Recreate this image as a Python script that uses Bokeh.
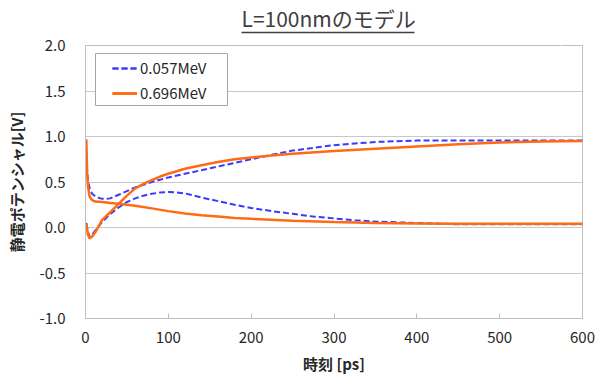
from bokeh.plotting import figure
from bokeh.models import (Range1d, Legend, LegendItem, FixedTicker, BoxAnnotation,
                          CustomJSTickFormatter, LinearAxis, Title)
from bokeh.embed import file_html
from bokeh.resources import INLINE

# ---- data ----
t_blue_a = [1, 2, 3, 5, 8, 12, 18, 25, 30, 40, 50, 60, 70, 80, 100, 120, 150, 180, 200, 225, 250, 275, 300, 350, 400, 450, 500, 600]
v_blue_a = [0.78, 0.62, 0.52, 0.43, 0.37, 0.34, 0.32, 0.315, 0.32, 0.36, 0.40, 0.44, 0.47, 0.50, 0.55, 0.59, 0.65, 0.71, 0.75, 0.80, 0.845, 0.875, 0.905, 0.94, 0.955, 0.955, 0.955, 0.955]

t_blue_b = [1, 3, 5, 8, 12, 20, 30, 40, 50, 60, 70, 80, 90, 100, 110, 120, 140, 160, 180, 200, 225, 250, 275, 300, 325, 350, 400, 450, 500, 600]
v_blue_b = [0.05, -0.05, -0.10, -0.08, -0.03, 0.06, 0.15, 0.22, 0.28, 0.32, 0.35, 0.37, 0.385, 0.39, 0.385, 0.375, 0.33, 0.29, 0.25, 0.215, 0.18, 0.15, 0.12, 0.10, 0.08, 0.065, 0.05, 0.035, 0.035, 0.035]

t_orange_r = [1, 3, 5, 8, 12, 20, 30, 40, 50, 60, 70, 80, 90, 100, 120, 140, 160, 180, 200, 225, 250, 300, 350, 400, 450, 500, 550, 600]
v_orange_r = [0.04, -0.08, -0.12, -0.10, -0.05, 0.08, 0.17, 0.26, 0.35, 0.43, 0.48, 0.52, 0.56, 0.59, 0.645, 0.685, 0.72, 0.75, 0.77, 0.79, 0.81, 0.84, 0.865, 0.89, 0.915, 0.935, 0.945, 0.95]

t_orange_f = [1, 2, 3, 5, 8, 12, 20, 30, 40, 50, 60, 80, 100, 120, 140, 160, 180, 200, 250, 300, 350, 400, 450, 500, 600]
v_orange_f = [0.97, 0.60, 0.45, 0.34, 0.30, 0.285, 0.28, 0.27, 0.26, 0.25, 0.24, 0.21, 0.18, 0.155, 0.135, 0.12, 0.105, 0.095, 0.075, 0.06, 0.05, 0.045, 0.04, 0.04, 0.04]

series_names = ["0.057MeV", "0.696MeV"]
x_ticks = [0, 100, 200, 300, 400, 500, 600]
y_ticks = [-1.0, -0.5, 0.0, 0.5, 1.0, 1.5, 2.0]
title_text = "L=100nmのモデル"
x_label = "時刻 [ps]"
y_label = "静電ポテンシャル[V]"

BLUE = "#3a3aff"
ORANGE = "#ff6a13"
JP = "Noto Sans CJK JP"
TXT = "#262626"

X0, X1 = 0, 600
FRAME_L, FRAME_R = 85, 582   # frame pixel edges

p = figure(width=608, height=377, output_backend="svg", toolbar_location=None,
           x_range=Range1d(X0, X1), y_range=Range1d(-1.0, 2.0),
           min_border_left=FRAME_L, min_border_right=608 - FRAME_R,
           min_border_top=44, min_border_bottom=59)
p.title = None

p.outline_line_color = "#bfbfbf"
p.outline_line_width = 1
p.background_fill_color = "white"
p.border_fill_color = "white"

p.xgrid.grid_line_color = None
p.ygrid.grid_line_color = "#c8c8c8"
p.ygrid.grid_line_width = 1

p.xaxis.ticker = FixedTicker(ticks=x_ticks)
p.yaxis.ticker = FixedTicker(ticks=y_ticks)
p.yaxis.formatter = CustomJSTickFormatter(code="return tick.toFixed(1);")

for ax in (p.xaxis[0], p.yaxis[0]):
    ax.axis_line_color = "#bfbfbf"
    ax.major_tick_line_color = "#bfbfbf"
    ax.minor_tick_line_color = None
    ax.major_label_text_font = JP
    ax.major_label_text_font_size = "15px"
    ax.major_label_text_color = TXT
    ax.axis_label_text_font = JP
    ax.axis_label_text_font_size = "15px"
    ax.axis_label_text_font_style = "bold"
    ax.axis_label_text_color = TXT

p.xaxis.major_tick_in = 5
p.xaxis.major_tick_out = 0
p.yaxis.major_tick_in = 0
p.yaxis.major_tick_out = 0
p.xaxis.major_label_standoff = 13
p.yaxis.major_label_standoff = 20
p.xaxis.axis_label = x_label
p.yaxis.axis_label = y_label
p.xaxis.axis_label_standoff = 7
p.yaxis.axis_label_standoff = 9

r_ba = p.line(t_blue_a, v_blue_a, line_color=BLUE, line_width=2, line_dash="6 3")
r_bb = p.line(t_blue_b, v_blue_b, line_color=BLUE, line_width=2, line_dash="6 3")
r_or = p.line(t_orange_r, v_orange_r, line_color=ORANGE, line_width=2.5)
r_of = p.line(t_orange_f, v_orange_f, line_color=ORANGE, line_width=2.5)

# legend frame (canvas pixels)
legend_box = BoxAnnotation(left=95, right=227, top=53, bottom=105,
                           left_units="canvas", right_units="canvas",
                           top_units="canvas", bottom_units="canvas",
                           fill_color="white", fill_alpha=1,
                           line_color="#a6a6a6", line_width=1, line_alpha=1)
p.add_layout(legend_box)

legend = Legend(items=[LegendItem(label=series_names[0], renderers=[r_ba, r_bb]),
                       LegendItem(label=series_names[1], renderers=[r_or, r_of])],
                location=(27, 215), orientation="vertical")
legend.label_text_font = JP
legend.label_text_font_size = "15px"
legend.label_text_color = TXT
legend.border_line_alpha = 0
legend.background_fill_alpha = 0
legend.glyph_width = 25
legend.label_standoff = 3
legend.spacing = 4
legend.padding = 0
legend.margin = 0
legend.label_height = 18
legend.glyph_height = 18
p.add_layout(legend, "center")

# ---- above panels: spacer, title underline (an axis line), title ----
def px_to_x(px):
    return X0 + (px - FRAME_L) / (FRAME_R - FRAME_L) * (X1 - X0)

spacer = LinearAxis(ticker=FixedTicker(ticks=[px_to_x(560)]), axis_line_color=None,
                    major_tick_out=13, major_tick_in=0, major_tick_line_color="white",
                    minor_tick_line_color=None, minor_tick_out=0, major_label_standoff=0,
                    formatter=CustomJSTickFormatter(code="return '';"),
                    major_label_text_font_size="1px")
p.add_layout(spacer, "above")

underline = LinearAxis(ticker=FixedTicker(ticks=[]), axis_line_color="#404040",
                       axis_line_width=1.3, bounds=(px_to_x(241), px_to_x(414)),
                       major_tick_out=0, major_tick_in=0, major_tick_line_color=None,
                       minor_tick_line_color=None, major_label_standoff=0,
                       major_label_text_font_size="0px")
p.add_layout(underline, "above")

title = Title(text=title_text, align="left", offset=241 - FRAME_L, text_font=JP,
              text_font_size="21px", text_font_style="normal", text_color="#404040",
              standoff=0)
p.add_layout(title, "above")

open("out.html", "w").write(file_html(p, INLINE))
